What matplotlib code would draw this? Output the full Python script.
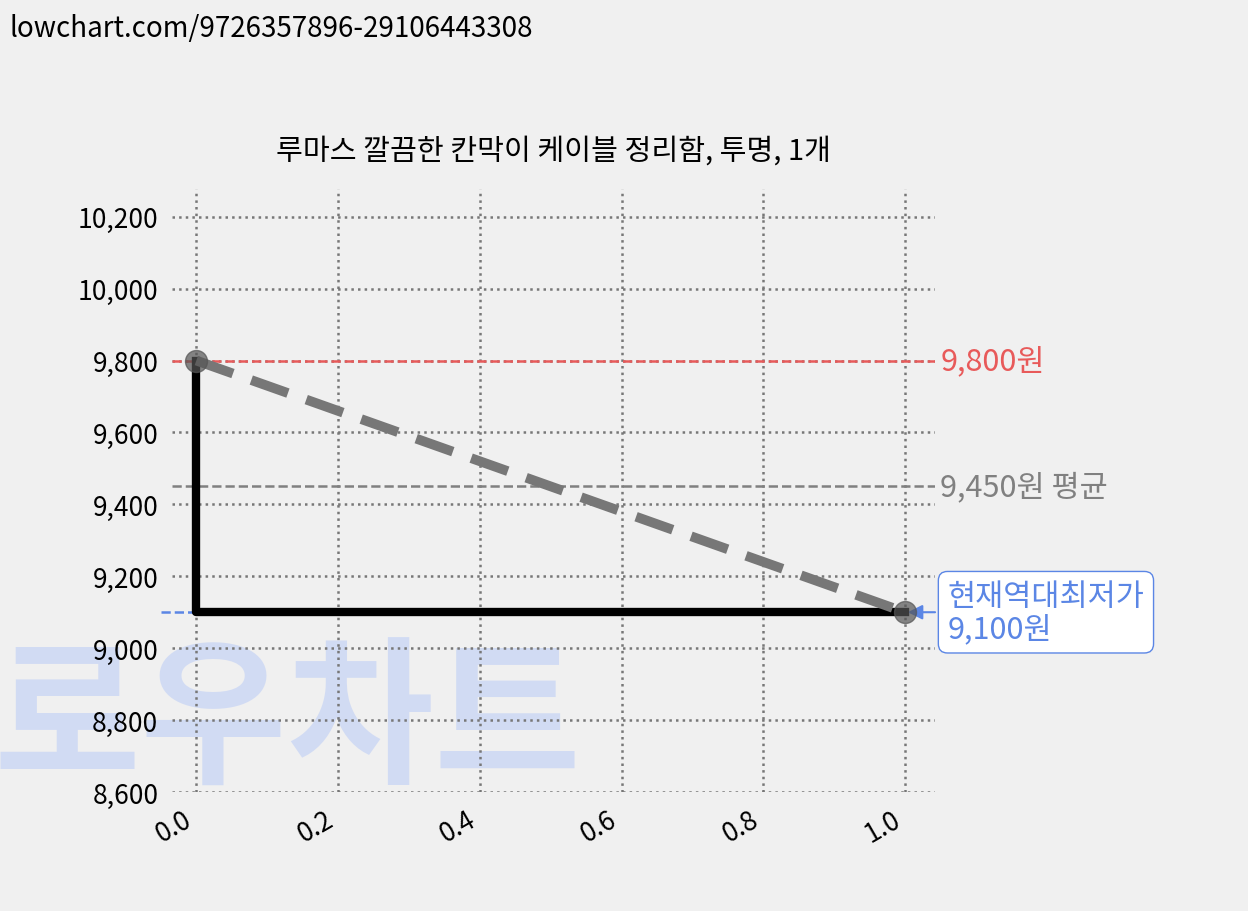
import matplotlib
matplotlib.use("Agg")
import matplotlib.pyplot as plt

plt.rcParams['font.family'] = ['Noto Sans CJK KR', 'DejaVu Sans']

xs = [0.0, 1.0]
prices = [9800, 9100]
max_price = 9800
avg_price = 9450
min_price = 9100
yticks = [8600, 8800, 9000, 9200, 9400, 9600, 9800, 10000, 10200]
title = "루마스 깔끔한 칸막이 케이블 정리함, 투명, 1개"

fig = plt.figure(figsize=(12.48, 9.12), dpi=100, facecolor='#f0f0f0')
ax = fig.add_axes([0.138, 0.1305, 0.611, 0.6615])
ax.set_facecolor('none')
for s in ax.spines.values():
    s.set_visible(False)

fig.text(0.008, 0.985, "lowchart.com/9726357896-29106443308", fontsize=20, va='top', ha='left', fontweight='light')
fig.text(-0.005, 0.205, "로우차트", fontsize=115, color='#c5d3f5', alpha=0.7, fontweight='bold',
         va='center', ha='left', zorder=-1)

ax.set_xlim(-0.034, 1.042)
ax.set_ylim(8600, 10278)
ax.set_yticks(yticks)
ax.set_yticklabels([f"{v:,}" for v in yticks], fontsize=19, fontweight='light')
ax.set_xticks([0, 0.2, 0.4, 0.6, 0.8, 1.0])
ax.set_xticklabels(["0.0", "0.2", "0.4", "0.6", "0.8", "1.0"], fontsize=19, rotation=30, ha='right', fontweight='light')
ax.tick_params(length=0, pad=10)
ax.grid(True, linestyle=':', color='#777777', linewidth=1.8)
ax.set_title(title, fontsize=21, pad=22)

ax.axhline(max_price, color='#e85a5a', linestyle='--', linewidth=1.8)
ax.axhline(avg_price, color='#808080', linestyle='--', linewidth=1.8)
ax.plot([-0.05, 1.0], [min_price, min_price], color='#5b86e5', linestyle='--', linewidth=1.8, clip_on=False)

ax.plot([xs[0], xs[0], xs[1]], [prices[0], prices[1], prices[1]], color='black', linewidth=6, zorder=3)
ax.plot(xs, prices, color='#777777', linestyle='--', linewidth=7, dashes=(4, 2), zorder=4)
ax.scatter(xs, prices, s=250, color='#555555', alpha=0.7, zorder=5)

ax.text(1.05, max_price, f"{max_price:,}원", color='#e85a5a', fontsize=22, va='center', ha='left')
ax.text(1.05, avg_price, f"{avg_price:,}원 평균", color='#808080', fontsize=22, va='center', ha='left')
ax.annotate(f"현재역대최저가\n{min_price:,}원", xy=(1.0, min_price), xytext=(1.06, min_price),
            color='#5b86e5', fontsize=22, va='center', ha='left', linespacing=1.05,
            bbox=dict(boxstyle='round,pad=0.3', fc='white', ec='#5b86e5'),
            arrowprops=dict(arrowstyle='-|>', color='#5b86e5', lw=1.5))

fig.savefig("out.png", dpi=100, facecolor=fig.get_facecolor())
